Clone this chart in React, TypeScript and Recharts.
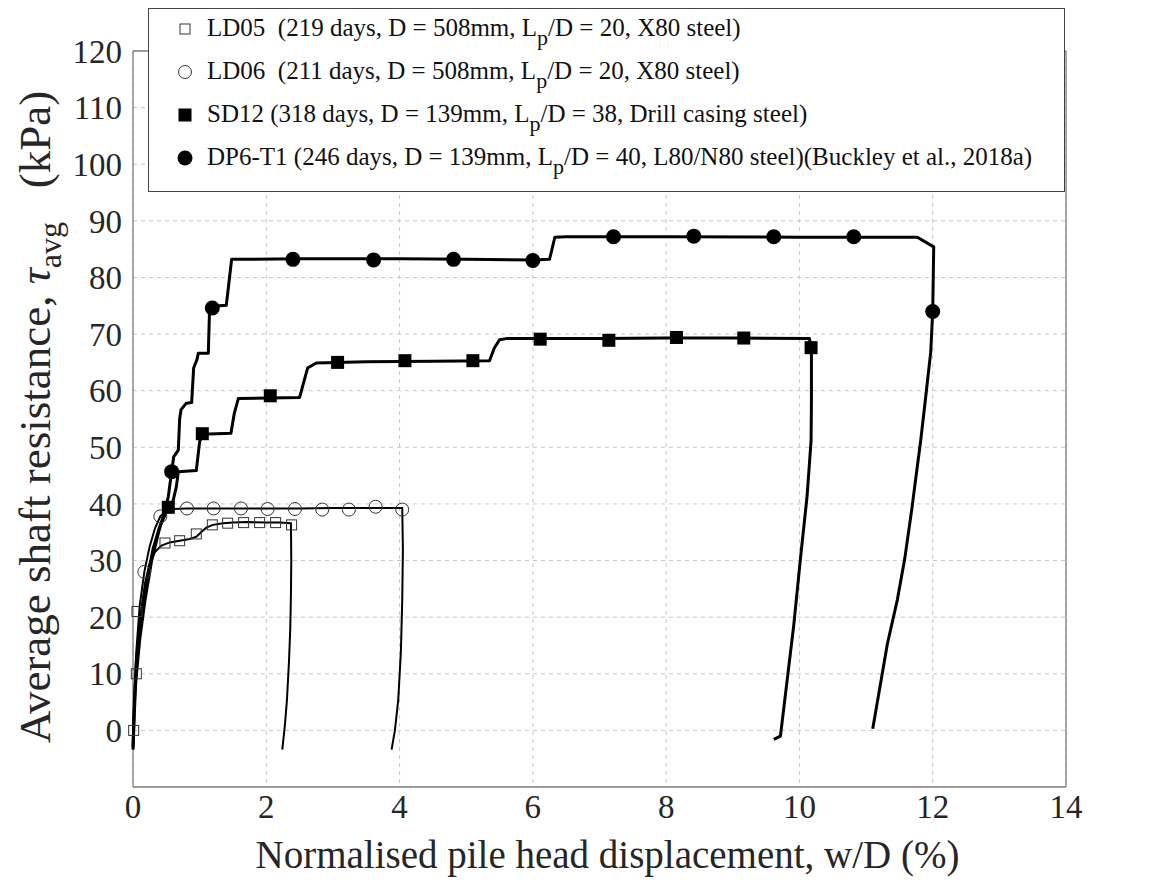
import React from "react";
import { ScatterChart, Scatter, XAxis, YAxis, CartesianGrid } from "recharts";

const FONT = '"Liberation Serif", "Times New Roman", serif';

const xTicks = [0, 2, 4, 6, 8, 10, 12, 14];
const yTicks = [0, 10, 20, 30, 40, 50, 60, 70, 80, 90, 100, 110, 120];

// LD05 (open squares)
const ld05X = [0, 0.02, 0.05, 0.08, 0.12, 0.18, 0.25, 0.33, 0.42, 0.55, 0.7, 0.85, 0.95, 1.02, 1.1, 1.2, 1.35, 1.5, 1.7, 2.0, 2.2, 2.37, 2.375, 2.37, 2.36, 2.34, 2.31, 2.28, 2.24];
const ld05Y = [-1, 5, 11, 16, 21, 26, 29.5, 31.5, 32.6, 33.2, 33.5, 33.8, 34.2, 35, 35.8, 36.3, 36.6, 36.7, 36.8, 36.7, 36.7, 36.6, 30, 24, 18, 12, 5.4, 1, -3.4];
const ld05MarkX = [0.01, 0.05, 0.06, 0.48, 0.7, 0.95, 1.19, 1.42, 1.66, 1.9, 2.14, 2.38];
const ld05MarkY = [0, 10, 21, 33.1, 33.5, 34.7, 36.3, 36.6, 36.7, 36.7, 36.7, 36.3];

// LD06 (open circles)
const ld06X = [0, 0.02, 0.05, 0.1, 0.17, 0.25, 0.33, 0.41, 0.5, 0.6, 0.8, 1.5, 2.5, 3.0, 3.5, 4.04, 4.05, 4.04, 4.02, 3.98, 3.93, 3.88];
const ld06Y = [-1, 6, 14, 22, 28, 32.5, 35.7, 37.8, 38.8, 39.1, 39.2, 39.2, 39.2, 39.3, 39.3, 39.3, 32, 23, 14, 5.4, 0, -3.4];
const ld06MarkX = [0.17, 0.41, 0.81, 1.21, 1.62, 2.02, 2.43, 2.84, 3.24, 3.64, 4.04];
const ld06MarkY = [28, 37.8, 39.2, 39.2, 39.2, 39.1, 39.1, 39.0, 39.0, 39.5, 39.0];

// SD12 (filled squares)
const sd12X = [0, 0.02, 0.05, 0.1, 0.2, 0.3, 0.4, 0.5, 0.55, 0.6, 0.65, 0.68, 0.95, 1.0, 1.04, 1.47, 1.52, 1.58, 2.5, 2.55, 2.62, 2.75, 3.5, 4.5, 5.35, 5.42, 5.5, 5.6, 7, 8, 9, 10.15, 10.18, 10.18, 10.175, 10.115, 10.015, 9.915, 9.815, 9.715, 9.615];
const sd12Y = [-3, 5, 12, 18, 26, 32, 36, 38.5, 39.8, 40.5, 43, 45.7, 45.9, 51, 52.3, 52.5, 56, 58.6, 58.8, 61, 64, 64.9, 65.1, 65.2, 65.3, 67.5, 69.0, 69.2, 69.2, 69.3, 69.3, 69.2, 67.6, 58, 51.2, 41.4, 30.3, 18.6, 8.8, -1, -1.6];
const sd12MarkX = [0.53, 1.04, 2.06, 3.07, 4.08, 5.1, 6.11, 7.14, 8.155, 9.165, 10.175];
const sd12MarkY = [39.4, 52.4, 59.1, 65.0, 65.3, 65.3, 69.1, 68.9, 69.4, 69.3, 67.6];

// DP6-T1 (filled circles)
const dp6X = [0, 0.02, 0.04, 0.1, 0.18, 0.28, 0.38, 0.48, 0.53, 0.58, 0.61, 0.68, 0.7, 0.72, 0.8, 0.88, 0.91, 0.96, 0.98, 1.13, 1.15, 1.3, 1.4, 1.48, 2.5, 4, 5, 6, 6.25, 6.33, 6.5, 8, 10, 11.77, 12.015, 12.0, 11.97, 11.89, 11.82, 11.74, 11.69, 11.58, 11.47, 11.32, 11.1];
const dp6Y = [-3.4, 3, 8.4, 16, 23, 30, 34.8, 39, 41.3, 45.7, 48.3, 49.5, 55, 56.6, 57.8, 57.9, 64, 65.5, 66.6, 66.6, 74.8, 75, 75.1, 83.2, 83.3, 83.3, 83.2, 83.1, 83.2, 87.1, 87.2, 87.2, 87.1, 87.1, 85.4, 74.0, 66.8, 58.4, 51.2, 44, 39.4, 30.3, 23.1, 15.3, 0.3];
const dp6MarkX = [0.58, 1.19, 2.4, 3.61, 4.81, 6.0, 7.21, 8.415, 9.615, 10.815, 12.0];
const dp6MarkY = [45.7, 74.6, 83.2, 83.1, 83.2, 83.0, 87.2, 87.3, 87.2, 87.2, 74.0];

const zip = (xs: number[], ys: number[]) => xs.map((x, i) => ({ x, y: ys[i] }));

const noShape = () => <g />;
const openSquare = (p: any) => (
  <rect x={p.cx - 5} y={p.cy - 5} width={10} height={10} fill="none" stroke="#333" strokeWidth={1} />
);
const openCircle = (p: any) => <circle cx={p.cx} cy={p.cy} r={6.5} fill="none" stroke="#333" strokeWidth={1} />;
const fillSquare = (p: any) => <rect x={p.cx - 6.5} y={p.cy - 6.5} width={13} height={13} fill="#000" />;
const fillCircle = (p: any) => <circle cx={p.cx} cy={p.cy} r={7.5} fill="#000" />;

const legendRows = [
  { marker: "os", label: "LD05  (219 days, D = 508mm, L", rest: "/D = 20, X80 steel)" },
  { marker: "oc", label: "LD06  (211 days, D = 508mm, L", rest: "/D = 20, X80 steel)" },
  { marker: "fs", label: "SD12 (318 days, D = 139mm, L", rest: "/D = 38, Drill casing steel)" },
  { marker: "fc", label: "DP6-T1 (246 days, D = 139mm, L", rest: "/D = 40, L80/N80 steel)(Buckley et al., 2018a)" },
];

function LegendMarker({ kind }: { kind: string }) {
  return (
    <svg width={20} height={20} style={{ position: "absolute", left: -10, top: -10 }}>
      {kind === "os" && <rect x={5} y={5} width={10} height={10} fill="none" stroke="#333" />}
      {kind === "oc" && <circle cx={10} cy={10} r={6.5} fill="none" stroke="#333" />}
      {kind === "fs" && <rect x={3.5} y={3.5} width={13} height={13} fill="#000" />}
      {kind === "fc" && <circle cx={10} cy={10} r={7.5} fill="#000" />}
    </svg>
  );
}

function XTitle(props: any) {
  const { x, y, width } = props.viewBox;
  return (
    <text x={x + width / 2 + 8} y={y + 81} textAnchor="middle" fontFamily={FONT} fontSize={39} fill="#262626">
      Normalised pile head displacement, w/D (%)
    </text>
  );
}

function YTitle(props: any) {
  const { y, height } = props.viewBox;
  const cx = 50;
  const cy = y + height / 2 - 2;
  return (
    <text x={cx} y={cy} transform={`rotate(-90 ${cx} ${cy})`} textAnchor="middle" fontFamily={FONT} fontSize={45} fill="#262626">
      Average shaft resistance,{" "}
      <tspan fontStyle="italic">τ</tspan>
      <tspan dy={11} fontSize={32}>avg</tspan>
      <tspan dy={-11}>{"\u00a0\u00a0\u00a0(kPa)"}</tspan>
    </text>
  );
}

export default function App() {
  const tickStyle = { fontSize: 33, fontFamily: FONT, fill: "#262626" };
  return (
    <div style={{ position: "absolute", left: 0, top: 0, width: 1156, height: 886, background: "#fff" }}>
      <ScatterChart width={1156} height={886} margin={{ top: 51, right: 90, left: 0, bottom: 0 }}>
        <CartesianGrid stroke="#c8c8c8" strokeDasharray="4 4" />
        <XAxis
          type="number"
          dataKey="x"
          domain={[0, 14]}
          ticks={xTicks}
          height={99}
          tickSize={0}
          tickMargin={8}
          tickLine={false}
          axisLine={{ stroke: "#7f7f7f", strokeWidth: 1.3 }}
          tick={tickStyle}
          label={XTitle}
        />
        <XAxis xAxisId="bm" type="number" domain={[0, 14]} ticks={xTicks} mirror tick={false} tickSize={10} axisLine={false} tickLine={{ stroke: "#555" }} />
        <XAxis xAxisId="tm" orientation="top" type="number" domain={[0, 14]} ticks={xTicks} mirror tick={false} tickSize={10} axisLine={{ stroke: "#7f7f7f", strokeWidth: 1.3 }} tickLine={{ stroke: "#555" }} />
        <YAxis
          type="number"
          dataKey="y"
          domain={[-10, 120]}
          ticks={yTicks}
          width={133}
          tickSize={0}
          tickMargin={11}
          tickLine={false}
          axisLine={{ stroke: "#7f7f7f", strokeWidth: 1.3 }}
          tick={tickStyle}
          label={YTitle}
        />
        <YAxis yAxisId="lm" type="number" domain={[-10, 120]} ticks={yTicks} mirror tick={false} tickSize={10} axisLine={false} tickLine={{ stroke: "#555" }} />
        <YAxis yAxisId="rm" orientation="right" type="number" domain={[-10, 120]} ticks={yTicks} mirror tick={false} tickSize={10} axisLine={{ stroke: "#7f7f7f", strokeWidth: 1.3 }} tickLine={{ stroke: "#555" }} />

        <Scatter data={zip(ld05X, ld05Y)} line={{ stroke: "#000", strokeWidth: 2 }} shape={noShape} isAnimationActive={false} />
        <Scatter data={zip(ld06X, ld06Y)} line={{ stroke: "#000", strokeWidth: 2 }} shape={noShape} isAnimationActive={false} />
        <Scatter data={zip(sd12X, sd12Y)} line={{ stroke: "#000", strokeWidth: 3, strokeLinejoin: "round" }} shape={noShape} isAnimationActive={false} />
        <Scatter data={zip(dp6X, dp6Y)} line={{ stroke: "#000", strokeWidth: 3, strokeLinejoin: "round" }} shape={noShape} isAnimationActive={false} />

        <Scatter data={zip(ld05MarkX, ld05MarkY)} shape={openSquare} isAnimationActive={false} />
        <Scatter data={zip(ld06MarkX, ld06MarkY)} shape={openCircle} isAnimationActive={false} />
        <Scatter data={zip(sd12MarkX, sd12MarkY)} shape={fillSquare} isAnimationActive={false} />
        <Scatter data={zip(dp6MarkX, dp6MarkY)} shape={fillCircle} isAnimationActive={false} />
      </ScatterChart>

      <div
        style={{
          position: "absolute",
          left: 148,
          top: 8,
          width: 917,
          height: 184,
          border: "1.3px solid #444",
          background: "#fff",
          fontFamily: FONT,
          fontSize: 25,
          color: "#111",
          boxSizing: "border-box",
        }}
      >
        {legendRows.map((r, i) => (
          <div key={r.label} style={{ position: "absolute", left: 0, top: 20 + i * 43, width: "100%" }}>
            <div style={{ position: "absolute", left: 36, top: 0 }}>
              <LegendMarker kind={r.marker} />
            </div>
            <div style={{ position: "absolute", left: 58, top: -16, whiteSpace: "pre", lineHeight: "30px" }}>
              {r.label}
              <span style={{ position: "relative", top: 9, fontSize: 22 }}>p</span>
              {r.rest}
            </div>
          </div>
        ))}
      </div>
    </div>
  );
}
